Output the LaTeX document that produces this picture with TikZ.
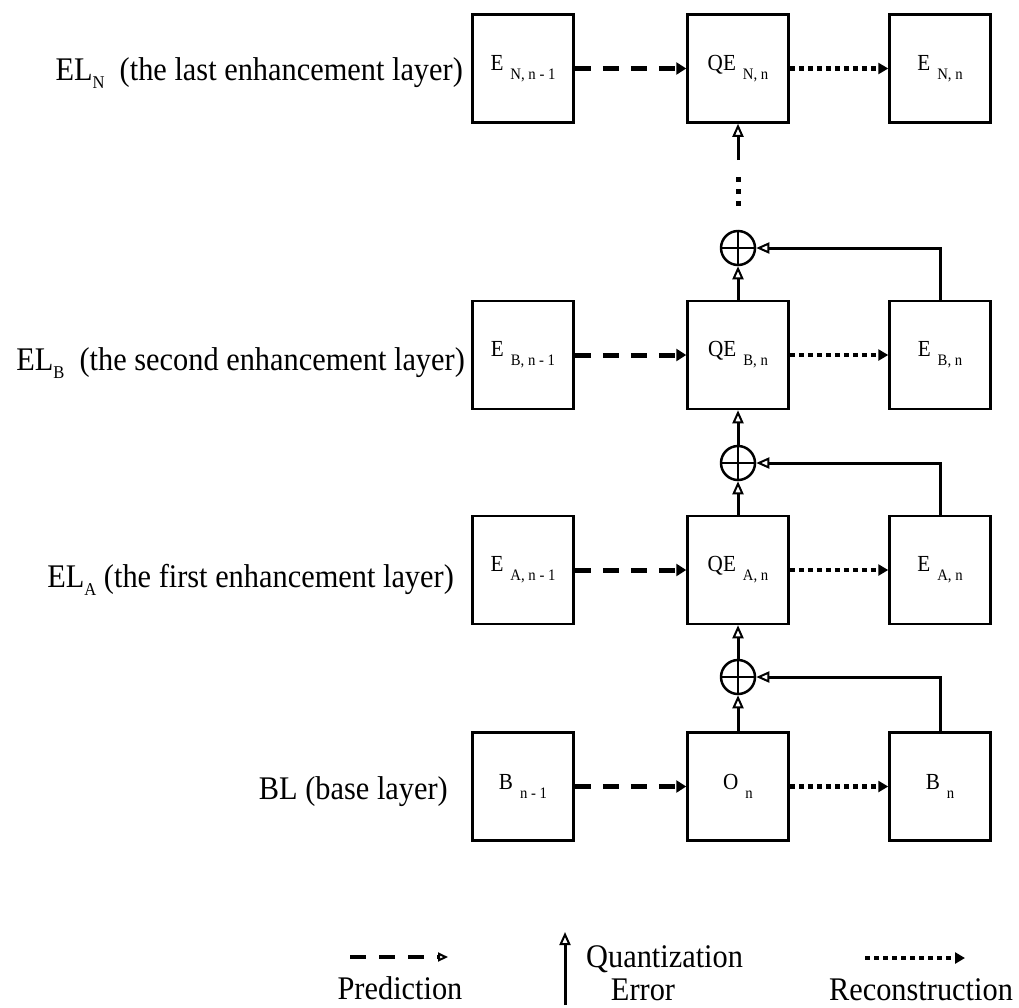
\documentclass[tikz,border=0pt]{standalone}
\usepackage{fontspec}
\setmainfont[FakeStretch=0.92]{Liberation Serif}
\usetikzlibrary{arrows.meta}
\newcommand{\bxt}[2]{{\fontsize{23}{25}\selectfont #1\hspace{7pt}\raisebox{-9pt}{\fontsize{16}{18}\selectfont #2}}}
\newcommand{\lbsub}[1]{\raisebox{-8pt}{\fontsize{18}{20}\selectfont #1}}
\begin{document}
\begin{tikzpicture}[x=1pt,y=-1pt,
  box/.style={draw, line width=2.5pt, minimum width=101pt, minimum height=108pt, inner sep=0pt},
  opl/.style={circle, draw, line width=2.5pt, minimum size=34pt, inner sep=0pt,
    path picture={\draw[line width=2pt] (path picture bounding box.north) -- (path picture bounding box.south)
      (path picture bounding box.west) -- (path picture bounding box.east);}},
  pred/.style={line width=5pt, dash pattern=on 16pt off 12pt, -{Triangle[length=10pt,width=12pt]}},
  recon/.style={line width=4.5pt, dash pattern=on 5pt off 4pt, -{Triangle[length=10pt,width=11pt]}},
  qerr/.style={line width=3pt, -{Triangle[open,length=13pt,width=11pt,line width=2pt]}},
  predleg/.style={line width=4pt, dash pattern=on 16pt off 13pt, -{Triangle[open,length=10pt,width=9pt,line width=2pt]}},
  dotcol/.style={line width=5pt, dash pattern=on 5pt off 7pt},
  lbl/.style={anchor=base east, inner sep=0pt, font=\fontsize{33}{36}\selectfont},
  leg/.style={anchor=base, inner sep=0pt, font=\fontsize{33}{36}\selectfont}]
\useasboundingbox (0,0) rectangle (1019,1007);

% labels
\node[lbl] (lN) at (463,80) {EL\lbsub{N}\ \ (the last enhancement layer)};
\node[lbl] (lB) at (465,370) {EL\lbsub{B}\ \ (the second enhancement layer)};
\node[lbl] (lA) at (454,587) {EL\lbsub{A} (the first enhancement layer)};
\node[lbl] (lBL) at (448,799) {BL (base layer)};

% boxes
\node[box] (eN1) at (523,68.5) {\bxt{E}{N, n - 1}};
\node[box] (qeN) at (738,68.5) {\bxt{QE}{N, n}};
\node[box] (eN)  at (940,68.5) {\bxt{E}{N, n}};

\node[box] (eB1) at (523,355) {\bxt{E}{B, n - 1}};
\node[box] (qeB) at (738,355) {\bxt{QE}{B, n}};
\node[box] (eB)  at (940,355) {\bxt{E}{B, n}};

\node[box] (eA1) at (523,570) {\bxt{E}{A, n - 1}};
\node[box] (qeA) at (738,570) {\bxt{QE}{A, n}};
\node[box] (eA)  at (940,570) {\bxt{E}{A, n}};

\node[box] (b1) at (523,786.5) {\bxt{B}{n - 1}};
\node[box] (on) at (738,786.5) {\bxt{O}{n}};
\node[box] (bn) at (940,786.5) {\bxt{B}{n}};

% adders
\node[opl] (opB) at (738,248) {};
\node[opl] (opA) at (738,463) {};
\node[opl] (opL) at (738,677) {};

% prediction
\draw[pred] (eN1.east) -- (qeN.west);
\draw[pred] (eB1.east) -- (qeB.west);
\draw[pred] (eA1.east) -- (qeA.west);
\draw[pred] (b1.east) -- (on.west);

% reconstruction
\draw[recon] (qeN.east) -- (eN.west);
\draw[recon] (qeB.east) -- (eB.west);
\draw[recon] (qeA.east) -- (eA.west);
\draw[recon] (on.east) -- (bn.west);

% quantization error
\coordinate (d1) at (738,177);
\coordinate (d2) at (738,208);
\draw[dotcol] (d1) -- (d2);
\coordinate (d3) at (738,160);
\draw[qerr] (d3) -- (qeN.south);
\draw[qerr] (qeB.north) -- (opB.south);
\draw[qerr] (opA.north) -- (qeB.south);
\draw[qerr] (qeA.north) -- (opA.south);
\draw[qerr] (opL.north) -- (qeA.south);
\draw[qerr] (on.north) -- (opL.south);

% feedback
\draw[qerr] (eB.north) |- (opB.east);
\draw[qerr] (eA.north) |- (opA.east);
\draw[qerr] (bn.north) |- (opL.east);

% legend
\coordinate (lp1) at (350,957);
\coordinate (lp2) at (448,957);
\draw[predleg] (lp1) -- (lp2);
\node[leg] (tP) at (400,999) {Prediction};
\coordinate (lq1) at (565,1005);
\coordinate (lq2) at (565,932);
\draw[qerr] (lq1) -- (lq2);
\node[leg, anchor=base west] (tQ) at (586,967) {Quantization};
\node[leg] (tE) at (643,1000) {Error};
\coordinate (lr1) at (865,958);
\coordinate (lr2) at (965,958);
\draw[recon] (lr1) -- (lr2);
\node[leg] (tR) at (921,1000) {Reconstruction};
\end{tikzpicture}
\end{document}
